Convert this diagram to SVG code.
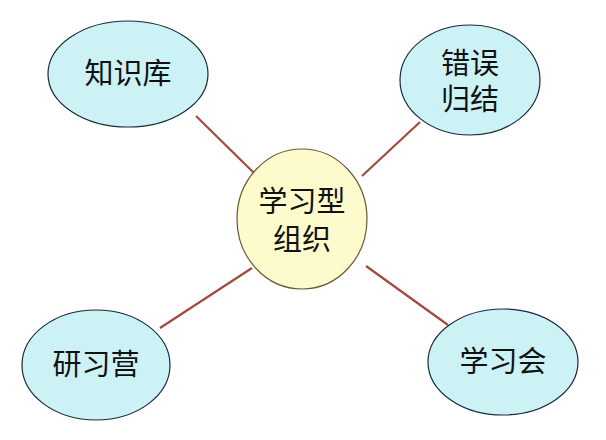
<svg xmlns="http://www.w3.org/2000/svg" width="606" height="440" viewBox="0 0 606 440">
<style>
.n{fill:#ccf2f6;stroke:#1a2a3a;stroke-width:1.2}
.c{fill:#fdfacb;stroke:#6b5a3a;stroke-width:1.2}
.t{font-family:"Noto Sans CJK SC","Liberation Sans",sans-serif;font-size:29px;fill:#111;text-anchor:middle}
.e{stroke:#a34a3e;stroke-width:2.2;fill:none}
</style>
<rect width="606" height="440" fill="#fff"/>
<g id="edges">
<line class="e" x1="196" y1="116" x2="254" y2="173"/>
<line class="e" x1="420" y1="122" x2="362" y2="176"/>
<line class="e" x1="160" y1="328" x2="252" y2="268"/>
<line class="e" x1="366" y1="266" x2="448" y2="325"/>
</g>
<g id="center"><ellipse class="c" cx="302" cy="219" rx="65" ry="70"/><text class="t" x="302" y="212">学习型</text><text class="t" x="302" y="250">组织</text></g>
<g id="zhishiku"><ellipse class="n" cx="128" cy="74" rx="80" ry="53"/><text class="t" x="128" y="84">知识库</text></g>
<g id="cuowu"><ellipse class="n" cx="470" cy="80" rx="70" ry="55"/><text class="t" x="470" y="74">错误</text><text class="t" x="470" y="110">归结</text></g>
<g id="yanxiying"><ellipse class="n" cx="96" cy="365" rx="74" ry="55"/><text class="t" x="96" y="375">研习营</text></g>
<g id="xuexihui"><ellipse class="n" cx="503" cy="362" rx="75" ry="53"/><text class="t" x="503" y="372">学习会</text></g>
</svg>
